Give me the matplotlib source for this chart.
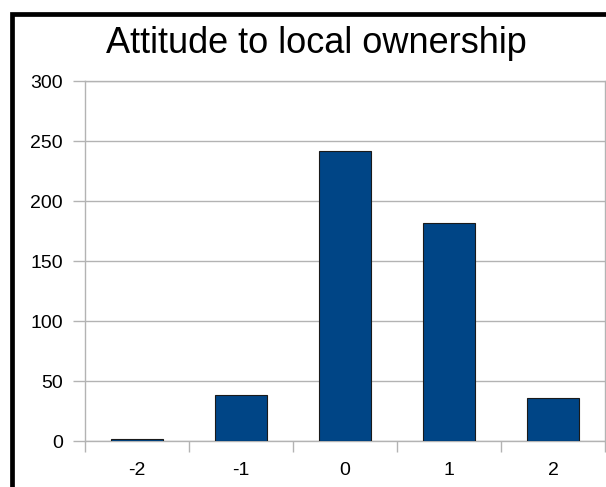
import matplotlib
matplotlib.use("Agg")
import matplotlib.pyplot as plt
from matplotlib.patches import Rectangle

# Data
categories = ["-2", "-1", "0", "1", "2"]
counts = [2, 38, 242, 182, 36]
y_ticks = [0, 50, 100, 150, 200, 250, 300]

plt.rcParams['font.family'] = ['Liberation Sans', 'DejaVu Sans']

W, H = 606, 487
fig = plt.figure(figsize=(W / 100, H / 100), dpi=100)
fig.patch.set_facecolor('white')

# plot area in pixels: x 85..605, y 81..441
ax = fig.add_axes([85 / W, (H - 441) / H, 520 / W, 360 / H])

grid_col = '#b3b3b3'
x = list(range(len(categories)))
ax.bar(x, counts, width=0.5, color='#004586', edgecolor='#1a1a1a', linewidth=0.8, zorder=3)

ax.set_xlim(-0.5, len(categories) - 0.5)
ax.set_ylim(0, 300)
ax.set_yticks(y_ticks)
ax.set_yticklabels([str(v) for v in y_ticks], fontsize=14)
ax.yaxis.grid(True, color=grid_col, linewidth=1.0, zorder=0)

# category labels at centres, tick marks at boundaries
ax.set_xticks(x)
ax.set_xticklabels(categories, fontsize=14)
ax.tick_params(axis='x', length=0, pad=15)
ax.set_xticks([i - 0.5 for i in range(len(categories) + 1)], minor=True)
ax.tick_params(axis='x', which='minor', length=8, color=grid_col, width=1.0)
ax.tick_params(axis='y', length=9, color=grid_col, width=1.0, pad=7)

for s in ax.spines.values():
    s.set_color(grid_col)
    s.set_linewidth(1.0)

fig.text(316 / W, (H - 53) / H, "Attitude to local ownership", fontsize=26,
         ha='center', va='baseline')

# thick black frame, right and bottom edges fall outside the image
fig.patches.append(Rectangle((12 / W, -20 / H), 620 / W, (H - 14 + 20) / H,
                             transform=fig.transFigure, fill=False,
                             edgecolor='black', linewidth=3.4))

fig.savefig("out.png", dpi=100)
